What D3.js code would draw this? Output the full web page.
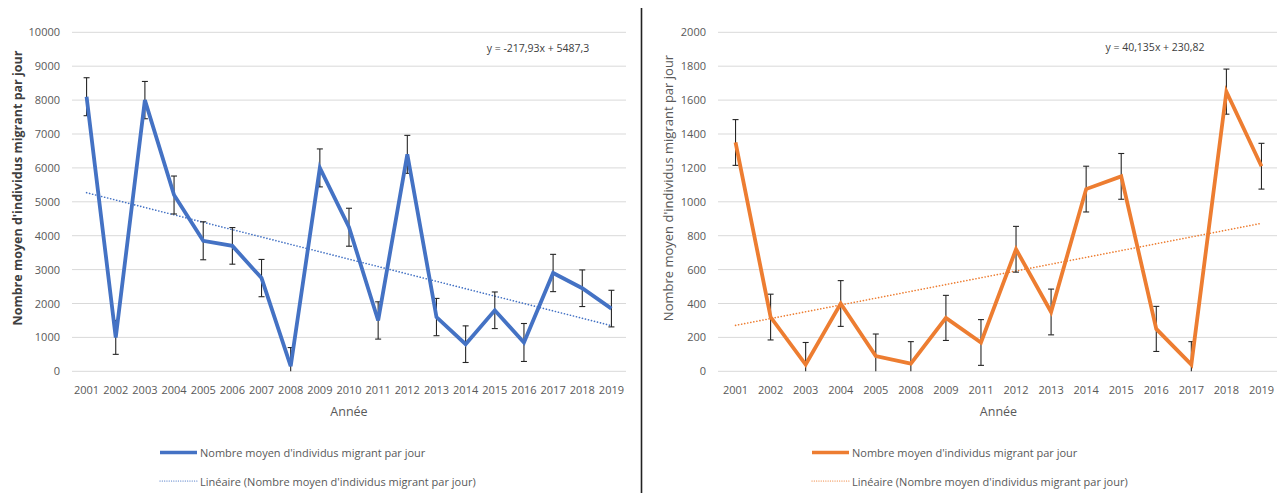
<!DOCTYPE html>
<html>
<head>
<meta charset="utf-8">
<script src="https://cdn.jsdelivr.net/npm/d3@7"></script>
<style>
  html, body { margin: 0; padding: 0; background: #fff; }
  svg { display: block; font-family: "Open Sans", "Noto Sans", sans-serif; }
</style>
</head>
<body>
<svg id="chart" width="1277" height="493"></svg>
<script>
// Station A (blue): mean migrants per day, 2001-2019
const yearsA = ["2001","2002","2003","2004","2005","2006","2007","2008","2009","2010",
                "2011","2012","2013","2014","2015","2016","2017","2018","2019"];
const meanA  = [8100, 1000, 8000, 5200, 3850, 3700, 2750, 150, 6000, 4250,
                1500, 6400, 1600, 800, 1800, 850, 2900, 2450, 1850];
const errA   = [560, 500, 550, 560, 560, 540, 550, 550, 560, 560,
                550, 560, 550, 540, 540, 560, 550, 540, 540];
const ticksA = [0, 1000, 2000, 3000, 4000, 5000, 6000, 7000, 8000, 9000, 10000];
const trendA = { slope: -217.93, intercept: 5487.3 };
const eqA    = "y = -217,93x + 5487,3";

// Station B (orange)
const yearsB = ["2001","2002","2003","2004","2005","2008","2009","2011","2012","2013",
                "2014","2015","2016","2017","2018","2019"];
const meanB  = [1350, 320, 40, 400, 90, 45, 315, 170, 720, 350,
                1075, 1150, 250, 40, 1650, 1210];
const errB   = [135, 135, 130, 135, 130, 130, 133, 135, 135, 135,
                135, 135, 133, 135, 133, 135];
const ticksB = [0, 200, 400, 600, 800, 1000, 1200, 1400, 1600, 1800, 2000];
const trendB = { slope: 40.135, intercept: 230.82 };
const eqB    = "y = 40,135x + 230,82";

const seriesName = "Nombre moyen d'individus migrant par jour";
const trendName  = "Linéaire (Nombre moyen d'individus migrant par jour)";
const yTitle     = "Nombre moyen d'individus migrant par jour";
const xTitle     = "Année";

const svg = d3.select("#chart");

// divider between the two panels
svg.append("line")
  .attr("x1", 641.5).attr("x2", 641.5).attr("y1", 8).attr("y2", 493)
  .attr("stroke", "#222").attr("stroke-width", 1.6);

function panel(o) {
  const x = d3.scaleBand().domain(o.years).range([o.x0, o.x1]);
  const y = d3.scaleLinear().domain([o.ticks[0], o.ticks[o.ticks.length - 1]]).range([371.3, 32.3]);
  const g = svg.append("g");
  const cx = d => x(d) + x.bandwidth() / 2;

  // horizontal gridlines
  g.append("g").selectAll("line").data(o.ticks).join("line")
    .attr("x1", o.x0).attr("x2", o.x1)
    .attr("y1", d => y(d)).attr("y2", d => y(d))
    .attr("stroke", "#d9d9d9").attr("stroke-width", 1);

  // value axis labels
  const yAx = g.append("g").attr("transform", `translate(${o.x0 - 12},0)`)
    .call(d3.axisLeft(y).tickValues(o.ticks).tickSize(0).tickPadding(0).tickFormat(d3.format("d")));
  yAx.select(".domain").remove();
  yAx.selectAll("text").attr("fill", "#595959").style("font-size", "11px")
    .style("font-family", "'Open Sans', sans-serif");

  // category axis labels
  const xAx = g.append("g").attr("transform", `translate(0,${y(0)})`)
    .call(d3.axisBottom(x).tickSize(0).tickPadding(15));
  xAx.select(".domain").remove();
  xAx.selectAll("text").attr("fill", "#595959").style("font-size", "11px")
    .style("font-family", "'Open Sans', sans-serif");

  // axis titles
  g.append("text")
    .attr("transform", `translate(${o.titleX},188) rotate(-90)`)
    .attr("text-anchor", "middle").attr("dominant-baseline", "central")
    .attr("fill", o.titleBold ? "#404040" : "#595959")
    .style("font-size", o.titleBold ? "12.5px" : "13px")
    .style("font-weight", o.titleBold ? "bold" : "normal")
    .text(yTitle);
  g.append("text")
    .attr("x", (o.x0 + o.x1) / 2).attr("y", 411)
    .attr("text-anchor", "middle").attr("dominant-baseline", "central")
    .attr("fill", "#595959").style("font-size", "12.5px")
    .text(xTitle);

  // linear trend
  const n = o.years.length;
  const tr = i => o.trend.slope * (i + 1) + o.trend.intercept;
  g.append("line")
    .attr("x1", cx(o.years[0])).attr("y1", y(tr(0)))
    .attr("x2", cx(o.years[n - 1])).attr("y2", y(tr(n - 1)))
    .attr("stroke", o.trendColor).attr("stroke-width", 1.6)
    .attr("stroke-dasharray", "0.1 3").attr("stroke-linecap", "round");

  const pts = o.years.map((d, i) => ({ year: d, v: o.values[i], e: o.err[i] }));

  // error bars
  const eb = g.append("g").selectAll("g").data(pts).join("g")
    .attr("stroke", "#262626").attr("stroke-width", 1.1);
  eb.append("line")
    .attr("x1", d => cx(d.year)).attr("x2", d => cx(d.year))
    .attr("y1", d => y(d.v + d.e)).attr("y2", d => y(Math.max(0, d.v - d.e)));
  eb.append("line")
    .attr("x1", d => cx(d.year) - 3).attr("x2", d => cx(d.year) + 3)
    .attr("y1", d => y(d.v + d.e)).attr("y2", d => y(d.v + d.e));
  eb.filter(d => d.v - d.e > 0).append("line")
    .attr("x1", d => cx(d.year) - 3).attr("x2", d => cx(d.year) + 3)
    .attr("y1", d => y(d.v - d.e)).attr("y2", d => y(d.v - d.e));

  // series line
  g.append("path").datum(pts)
    .attr("d", d3.line().x(d => cx(d.year)).y(d => y(d.v)))
    .attr("fill", "none").attr("stroke", o.color).attr("stroke-width", 3.8)
    .attr("stroke-linejoin", "miter");

  // trend equation
  g.append("text")
    .attr("x", o.eqX).attr("y", o.eqY)
    .attr("text-anchor", "middle").attr("dominant-baseline", "central")
    .attr("fill", "#404040").style("font-size", "10.5px")
    .text(o.eq);

  // legend
  const lg = g.append("g").attr("transform", `translate(${o.legX},0)`);
  lg.append("line").attr("x1", 0).attr("x2", 37).attr("y1", 452.5).attr("y2", 452.5)
    .attr("stroke", o.color).attr("stroke-width", 3.5);
  lg.append("text").attr("x", 40).attr("y", 452.5).attr("dominant-baseline", "central")
    .attr("fill", "#595959").style("font-size", "11px").text(seriesName);
  lg.append("line").attr("x1", 0).attr("x2", 37).attr("y1", 481).attr("y2", 481)
    .attr("stroke", o.trendColor).attr("stroke-width", 1.2)
    .attr("stroke-dasharray", "0.1 2.2").attr("stroke-linecap", "round");
  lg.append("text").attr("x", 40).attr("y", 481).attr("dominant-baseline", "central")
    .attr("fill", "#595959").style("font-size", "11px").text(trendName);
}

panel({
  years: yearsA, values: meanA, err: errA, ticks: ticksA, trend: trendA, eq: eqA,
  x0: 72, x1: 626, color: "#4472C4", trendColor: "#4472C4",
  titleX: 17, titleBold: true, eqX: 538, eqY: 48, legX: 160
});
panel({
  years: yearsB, values: meanB, err: errB, ticks: ticksB, trend: trendB, eq: eqB,
  x0: 718, x1: 1279, color: "#ED7D31", trendColor: "#ED7D31",
  titleX: 668, titleBold: false, eqX: 1155, eqY: 47, legX: 812
});
</script>
</body>
</html>
